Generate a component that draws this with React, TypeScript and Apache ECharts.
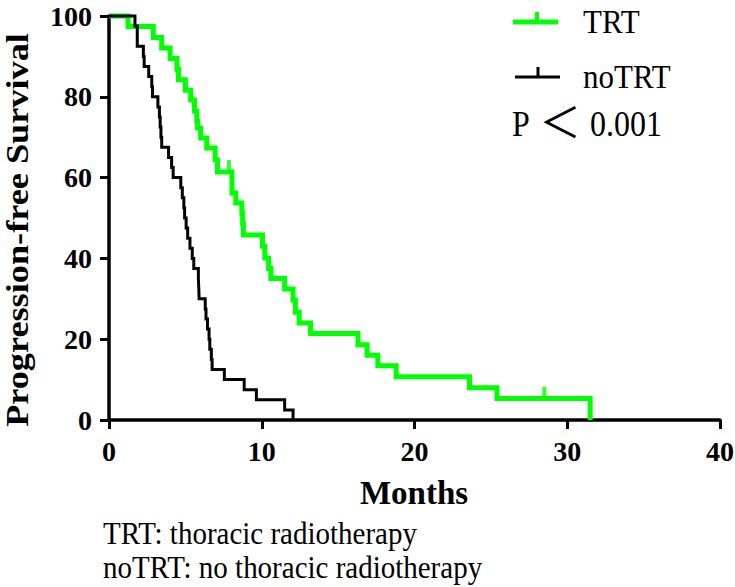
import { useEffect, useRef } from 'react';
import * as echarts from 'echarts';

const trtMonths = [0, 1.25, 2.9, 3.45, 4.0, 4.45, 4.55, 5.0, 5.35, 5.6, 5.75, 5.8, 6.0, 6.4, 6.95, 7.1, 8.05, 8.3, 8.7, 8.75, 8.8, 10.05, 10.2, 10.45, 10.6, 11.5, 12.05, 12.2, 12.45, 13.2, 16.3, 16.9, 17.6, 18.8, 23.6, 25.4, 31.5];
const trtSurvival = [100, 97.4, 94.7, 92.1, 89.5, 86.8, 84.2, 81.6, 79.2, 76.5, 74.0, 72.3, 69.8, 67.3, 64.4, 61.4, 56.2, 53.7, 51.2, 48.5, 45.8, 43.0, 40.1, 37.5, 35.0, 32.4, 29.7, 26.7, 24.0, 21.4, 18.6, 16.0, 13.4, 10.7, 8.0, 5.3, 0];
const trtCensorMonths = [7.85, 28.5];
const trtCensorSurvival = [61.4, 5.3];

const notrtMonths = [0, 1.7, 1.85, 2.25, 2.3, 2.6, 2.8, 2.85, 3.2, 3.3, 3.35, 3.4, 3.45, 3.9, 4.1, 4.2, 4.7, 4.8, 4.9, 4.95, 5.05, 5.15, 5.3, 5.45, 5.55, 5.85, 5.88, 5.9, 6.3, 6.35, 6.45, 6.55, 6.6, 6.7, 6.75, 7.55, 8.85, 9.65, 11.5, 12.05];
const notrtSurvival = [100, 97.5, 92.5, 90, 87.5, 85, 82.5, 80, 77.5, 75, 72.5, 70, 67.5, 65, 62.5, 60, 57.5, 55, 52.5, 50, 47.5, 45, 42.5, 40, 37.5, 35, 32.5, 30, 27.5, 25, 22.5, 20, 17.5, 15, 12.5, 10, 7.5, 5, 2.5, 0];

const xMin = 0, xMax = 40, xStep = 10;
const yMin = 0, yMax = 100, yStep = 20;

const legendNames = ['TRT', 'noTRT'];
const pValueParts = ['P', '＜', '0.001'];
const xTitle = 'Months';
const yTitle = 'Progression-free Survival';
const footnotes = ['TRT: thoracic radiotherapy', 'noTRT: no thoracic radiotherapy'];

const GREEN = '#00ff00';
const SERIF = '"Liberation Serif", "Times New Roman", "DejaVu Serif", "Noto Sans CJK SC", serif';

const zip = (a: number[], b: number[]) => a.map((v, i) => [v, b[i]]);

export default function App() {
  const ref = useRef<HTMLDivElement>(null);
  useEffect(() => {
    if (!ref.current) return;
    const chart = echarts.init(ref.current, undefined, { renderer: 'svg' });
    const axisCommon = {
      axisLine: { show: true, lineStyle: { color: '#000', width: 3.5 } },
      axisTick: { show: true, length: 9, lineStyle: { color: '#000', width: 3 } },
      splitLine: { show: false },
      axisLabel: { color: '#000', fontFamily: SERIF, fontWeight: 'bold' as const, fontSize: 28 },
    };
    chart.setOption({
      animation: false,
      backgroundColor: '#fff',
      grid: { left: 109, right: 15, top: 16, bottom: 167, containLabel: false, outerBoundsMode: 'none' },
      xAxis: {
        type: 'value', min: xMin, max: xMax, interval: xStep,
        ...axisCommon,
        axisLabel: { ...axisCommon.axisLabel, margin: 17 },
      },
      yAxis: {
        type: 'value', min: yMin, max: yMax, interval: yStep,
        ...axisCommon,
        axisLabel: { ...axisCommon.axisLabel, margin: 17 },
      },
      series: [
        {
          name: legendNames[0], type: 'line', step: 'end', data: zip(trtMonths, trtSurvival),
          showSymbol: false, clip: false,
          lineStyle: { color: GREEN, width: 5, join: 'miter', cap: 'butt' }, z: 2,
        },
        {
          name: legendNames[0] + ' censored', type: 'scatter', data: zip(trtCensorMonths, trtCensorSurvival),
          symbol: 'rect', symbolSize: [4, 12], symbolOffset: [0, -6],
          itemStyle: { color: GREEN }, z: 2,
        },
        {
          name: legendNames[1], type: 'line', step: 'end', data: zip(notrtMonths, notrtSurvival),
          showSymbol: false, clip: false,
          lineStyle: { color: '#000', width: 3, join: 'miter', cap: 'butt' }, z: 3,
        },
      ],
      graphic: [
        { type: 'line', shape: { x1: 513, y1: 22, x2: 558, y2: 22 }, style: { stroke: GREEN, lineWidth: 5 } },
        { type: 'line', shape: { x1: 537, y1: 12, x2: 537, y2: 22 }, style: { stroke: GREEN, lineWidth: 4 } },
        { type: 'line', shape: { x1: 515, y1: 77, x2: 560, y2: 77 }, style: { stroke: '#000', lineWidth: 3 } },
        { type: 'line', shape: { x1: 538, y1: 67, x2: 538, y2: 77 }, style: { stroke: '#000', lineWidth: 3 } },
        { type: 'text', x: 583, y: 21.5, scaleY: 1.12, style: { text: legendNames[0], font: `31px ${SERIF}`, fill: '#000', align: 'left', verticalAlign: 'middle' } },
        { type: 'text', x: 583, y: 76.5, scaleY: 1.12, style: { text: legendNames[1], font: `31px ${SERIF}`, fill: '#000', align: 'left', verticalAlign: 'middle' } },
        { type: 'text', x: 512, y: 123.5, scaleY: 1.15, style: { text: pValueParts[0], font: `32px ${SERIF}`, fill: '#000', align: 'left', verticalAlign: 'middle' } },
        { type: 'text', x: 560, y: 123.5, scaleX: 1.3, scaleY: 1.3, style: { text: pValueParts[1], font: `32px ${SERIF}`, fill: '#000', align: 'center', verticalAlign: 'middle' } },
        { type: 'text', x: 590, y: 123.5, scaleY: 1.15, style: { text: pValueParts[2], font: `32px ${SERIF}`, fill: '#000', align: 'left', verticalAlign: 'middle' } },
        { type: 'text', x: 17, y: 230, rotation: Math.PI / 2, scaleX: 1.17, style: { text: yTitle, font: `bold 31px ${SERIF}`, fill: '#000', align: 'center', verticalAlign: 'middle' } },
        { type: 'text', x: 414, y: 492.5, style: { text: xTitle, font: `bold 33px ${SERIF}`, fill: '#000', align: 'center', verticalAlign: 'middle' } },
        { type: 'text', x: 103, y: 533.5, scaleY: 1.1, style: { text: footnotes[0], font: `29px ${SERIF}`, fill: '#000', align: 'left', verticalAlign: 'middle' } },
        { type: 'text', x: 103, y: 567.5, scaleY: 1.1, style: { text: footnotes[1], font: `29px ${SERIF}`, fill: '#000', align: 'left', verticalAlign: 'middle' } },
      ],
    });
    return () => chart.dispose();
  }, []);
  return <div ref={ref} style={{ position: 'fixed', left: 0, top: 0, width: 735, height: 587 }} />;
}
